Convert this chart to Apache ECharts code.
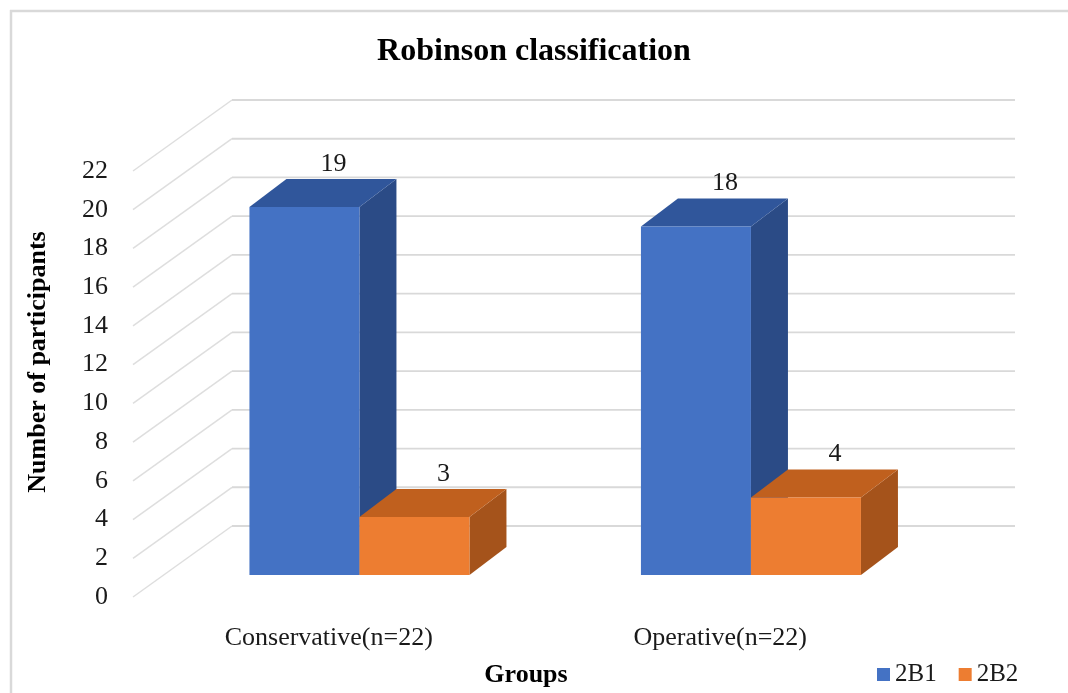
<!DOCTYPE html>
<html>
<head>
<meta charset="utf-8">
<title>Robinson classification</title>
<script src="https://cdn.jsdelivr.net/npm/echarts@6/dist/echarts.min.js"></script>
<style>
  html, body { margin: 0; padding: 0; background: #ffffff; }
  #chart { width: 1068px; height: 693px; }
</style>
</head>
<body>
<div id="chart"></div>
<script>
// Chart data
const categories = ['Conservative(n=22)', 'Operative(n=22)'];
const values2B1 = [19, 18];
const values2B2 = [3, 4];
const yTickValues = [0, 2, 4, 6, 8, 10, 12, 14, 16, 18, 20, 22];

// Pseudo-3D projection settings (pixels)
const WALL_DX = 99, WALL_DY = -71;      // depth of the back wall
const BAR_SHIFT_X = 30.7, BAR_SHIFT_Y = -22; // bars sit inside the box
const BAR_DX = 37, BAR_DY = -28;        // bar depth
const BAR_FRACTION = 0.281;             // bar width relative to category band

const FONT = "'Liberation Serif', 'Times New Roman', serif";

const palette = {
  '2B1': { front: '#4472C4', top: '#30569B', side: '#2B4B86' },
  '2B2': { front: '#ED7D31', top: '#C0601E', side: '#A5531B' }
};

function wallRenderer(params, api) {
  const v = api.value(1);
  const p = api.coord([0, v]);
  const cs = params.coordSys;
  const x0 = cs.x, y = p[1];
  return {
    type: 'group',
    children: [
      {
        type: 'line',
        shape: { x1: x0, y1: y, x2: x0 + WALL_DX, y2: y + WALL_DY },
        style: { stroke: '#dedede', lineWidth: 1.5 }
      },
      {
        type: 'line',
        shape: { x1: x0 + WALL_DX, y1: y + WALL_DY, x2: x0 + cs.width + WALL_DX, y2: y + WALL_DY },
        style: { stroke: '#d9d9d9', lineWidth: 1.8 }
      }
    ]
  };
}

function barRenderer(slot, colors) {
  return function (params, api) {
    const ci = api.value(0);
    const v = api.value(1);
    const base = api.coord([ci, 0]);
    const top = api.coord([ci, v]);
    const band = api.size([1, 0])[0];
    const w = band * BAR_FRACTION;
    const x0 = base[0] + BAR_SHIFT_X - w + slot * w;
    const x1 = x0 + w;
    const yb = base[1] + BAR_SHIFT_Y;
    const yt = top[1] + BAR_SHIFT_Y;
    return {
      type: 'group',
      children: [
        {
          type: 'polygon',
          shape: { points: [[x1, yt], [x1 + BAR_DX, yt + BAR_DY], [x1 + BAR_DX, yb + BAR_DY], [x1, yb]] },
          style: { fill: colors.side }
        },
        {
          type: 'polygon',
          shape: { points: [[x0, yt], [x1, yt], [x1 + BAR_DX, yt + BAR_DY], [x0 + BAR_DX, yt + BAR_DY]] },
          style: { fill: colors.top }
        },
        {
          type: 'rect',
          shape: { x: x0, y: yt, width: w, height: yb - yt },
          style: { fill: colors.front }
        },
        {
          type: 'text',
          x: x0 + w / 2 + 29,
          y: yt + BAR_DY - 15,
          style: {
            text: String(v),
            fill: '#1a1a1a',
            fontSize: 26,
            fontFamily: FONT,
            align: 'center',
            verticalAlign: 'middle'
          }
        }
      ]
    };
  };
}

const chart = echarts.init(document.getElementById('chart'), null, { renderer: 'canvas' });

const option = {
  backgroundColor: '#ffffff',
  animation: false,
  color: [palette['2B1'].front, palette['2B2'].front],
  title: {
    text: 'Robinson classification',
    left: 'center',
    top: 36,
    padding: 0,
    textStyle: { fontFamily: FONT, fontSize: 32, fontWeight: 'bold', color: '#000000' }
  },
  legend: {
    data: ['2B1', '2B2'],
    left: 877,
    top: 662,
    padding: 0,
    icon: 'rect',
    itemWidth: 13,
    itemHeight: 13,
    itemGap: 22,
    textStyle: { fontFamily: FONT, fontSize: 25, color: '#1a1a1a', padding: [0, 0, 0, 0] }
  },
  grid: { left: 133, top: 171, width: 783, height: 426 },
  xAxis: {
    type: 'category',
    data: categories,
    axisLine: { show: false },
    axisTick: { show: false },
    splitLine: { show: false },
    axisLabel: { fontFamily: FONT, fontSize: 26, color: '#1a1a1a', margin: 28 }
  },
  yAxis: {
    type: 'value',
    min: 0,
    max: 22,
    interval: 2,
    axisLine: { show: false },
    axisTick: { show: false },
    splitLine: { show: false },
    axisLabel: { fontFamily: FONT, fontSize: 26, color: '#1a1a1a', margin: 25 }
  },
  graphic: [
    {
      type: 'line',
      shape: { x1: 10, y1: 11, x2: 1068, y2: 11 },
      style: { stroke: '#d9d9d9', lineWidth: 2.5 }
    },
    {
      type: 'line',
      shape: { x1: 11, y1: 10, x2: 11, y2: 693 },
      style: { stroke: '#d9d9d9', lineWidth: 2.5 }
    },
    {
      type: 'text',
      x: 38,
      y: 362,
      rotation: Math.PI / 2,
      style: {
        text: 'Number of participants',
        fontFamily: FONT,
        fontSize: 26,
        fontWeight: 'bold',
        fill: '#000000',
        align: 'center',
        verticalAlign: 'middle'
      }
    },
    {
      type: 'text',
      x: 526,
      y: 675,
      style: {
        text: 'Groups',
        fontFamily: FONT,
        fontSize: 26,
        fontWeight: 'bold',
        fill: '#000000',
        align: 'center',
        verticalAlign: 'middle'
      }
    }
  ],
  series: [
    {
      name: 'wall',
      type: 'custom',
      z: 1,
      silent: true,
      renderItem: wallRenderer,
      data: yTickValues.map(function (v) { return [0, v]; })
    },
    {
      name: '2B1',
      type: 'custom',
      z: 2,
      itemStyle: { color: palette['2B1'].front },
      renderItem: barRenderer(0, palette['2B1']),
      data: values2B1.map(function (v, i) { return [i, v]; })
    },
    {
      name: '2B2',
      type: 'custom',
      z: 3,
      itemStyle: { color: palette['2B2'].front },
      renderItem: barRenderer(1, palette['2B2']),
      data: values2B2.map(function (v, i) { return [i, v]; })
    }
  ]
};

chart.setOption(option);
</script>
</body>
</html>
